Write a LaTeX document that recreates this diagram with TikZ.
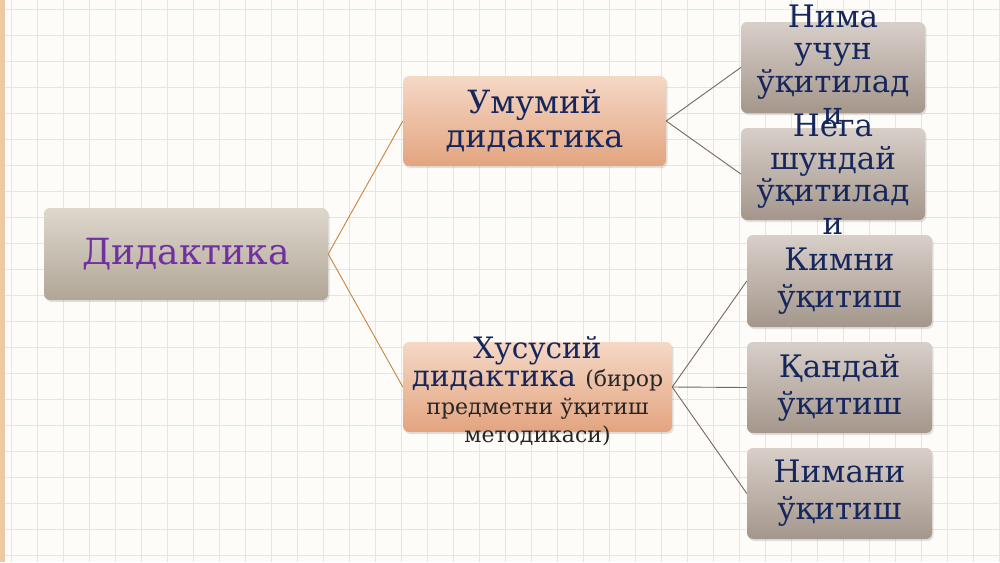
\documentclass[tikz,border=0pt]{standalone}
\usepackage{fontspec}
\setmainfont{DejaVu Serif}
\usetikzlibrary{shadows}
\definecolor{paper}{HTML}{FDFCF9}
\definecolor{gridcol}{HTML}{E6E5E2}
\definecolor{stripe}{HTML}{EDC9A4}
\definecolor{navy}{HTML}{15275C}
\definecolor{violet}{HTML}{7030A0}
\definecolor{linkorange}{HTML}{C8843F}
\definecolor{linkbrown}{HTML}{7A6757}
\definecolor{peachtop}{HTML}{F5D8C6}
\definecolor{peachbot}{HTML}{E3A47F}
\definecolor{greytop}{HTML}{D8CFC9}
\definecolor{greybot}{HTML}{A4968B}
\definecolor{sandtop}{HTML}{DED7CD}
\definecolor{sandbot}{HTML}{B1A696}
\tikzset{
  box/.style={rounded corners=6pt, inner sep=0pt, drop shadow={opacity=0.22, shadow xshift=1.5pt, shadow yshift=-2pt}},
  graybox/.style={box, top color=sandtop, bottom color=sandbot},
  peachbox/.style={box, top color=peachtop, bottom color=peachbot},
  greybox/.style={box, top color=greytop, bottom color=greybot},
  txt/.style={align=center, text=navy, inner sep=0pt},
  link/.style={line width=0.9pt}
}
\begin{document}
\begin{tikzpicture}[x=1pt,y=1pt,yscale=-1]
\useasboundingbox (0,0) rectangle (1000,562);
\fill[paper] (0,0) rectangle (1000,562);
\foreach \i in {0,...,38} \draw[gridcol, line width=0.8pt] (11.5+26*\i,0) -- ++(0,562);
\foreach \j in {0,...,21} \draw[gridcol, line width=0.8pt] (0,9+26*\j) -- ++(1000,0);
\fill[stripe] (0,0) rectangle (5,562);

\node[graybox, minimum width=284pt, minimum height=92pt] (didaktika) at (186,254) {};
\node[peachbox, minimum width=263pt, minimum height=90pt] (umumiy) at (534.5,121) {};
\node[peachbox, minimum width=269pt, minimum height=90pt] (xususiy) at (537.5,387) {};
\node[greybox, minimum width=184pt, minimum height=91pt] (nima) at (833,67.5) {};
\node[greybox, minimum width=184pt, minimum height=92pt] (nega) at (833,174) {};
\node[greybox, minimum width=185pt, minimum height=92pt] (kimni) at (839.5,281) {};
\node[greybox, minimum width=185pt, minimum height=91pt] (qanday) at (839.5,387.5) {};
\node[greybox, minimum width=185pt, minimum height=91pt] (nimani) at (839.5,493.5) {};

\draw[link, linkorange] (didaktika.east) -- (umumiy.west);
\draw[link, linkorange] (didaktika.east) -- (xususiy.west);
\draw[link, linkbrown] (umumiy.east) -- (nima.west);
\draw[link, linkbrown] (umumiy.east) -- (nega.west);
\draw[link, linkbrown] (xususiy.east) -- (kimni.west);
\draw[link, linkbrown] (xususiy.east) -- (qanday.west);
\draw[link, linkbrown] (xususiy.east) -- (nimani.west);

\node[txt, text=violet, font=\fontsize{36}{38}\selectfont] at (didaktika) {Дидактика};
\node[txt, font=\fontsize{32}{34}\selectfont] at (umumiy) {Умумий\\дидактика};
\node[txt, font=\fontsize{29.5}{28}\selectfont] at ([yshift=4.5pt]xususiy.center) {Хусусий\\дидактика {\color{black!85}\fontsize{22}{28}\selectfont(бирор}\\{\color{black!85}\fontsize{22}{28}\selectfont предметни ўқитиш}\\{\color{black!85}\fontsize{22}{28}\selectfont методикаси)}};
\node[txt, font=\fontsize{31}{32.5}\selectfont] at ([yshift=-3pt]nima.center) {Нима\\учун\\ўқитилад\\и};
\node[txt, font=\fontsize{31}{32.5}\selectfont] at (nega) {Нега\\шундай\\ўқитилад\\и};
\node[txt, font=\fontsize{31}{37}\selectfont] at (kimni) {Кимни\\ўқитиш};
\node[txt, font=\fontsize{31}{37}\selectfont] at (qanday) {Қандай\\ўқитиш};
\node[txt, font=\fontsize{31}{37}\selectfont] at (nimani) {Нимани\\ўқитиш};
\end{tikzpicture}
\end{document}
